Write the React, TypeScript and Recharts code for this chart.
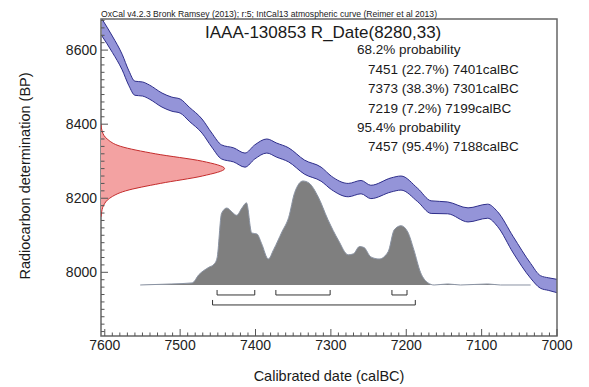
import React from "react";
import {
    ComposedChart,
    Area,
    Line,
    Scatter,
    XAxis,
    YAxis,
    ReferenceArea,
} from "recharts";

const calYears = [7604, 7590, 7577, 7568, 7560, 7550, 7541, 7524, 7511, 7500, 7488, 7471, 7458, 7445, 7429, 7414, 7401, 7385, 7372, 7356, 7335, 7313, 7299, 7277, 7260, 7247, 7220, 7207, 7185, 7167, 7145, 7118, 7092, 7079, 7058, 7035, 7022, 7011, 7000];
const calBP = [8662, 8616, 8568, 8524, 8497, 8495, 8487, 8465, 8454, 8449, 8427, 8395, 8357, 8325, 8317, 8303, 8325, 8341, 8330, 8317, 8284, 8265, 8241, 8222, 8230, 8217, 8236, 8241, 8209, 8176, 8174, 8155, 8165, 8144, 8074, 8004, 7974, 7968, 7963];
const calErr = [23, 22, 21, 20, 19, 19, 19, 19, 19, 19, 19, 19, 19, 19, 19, 19, 19, 19, 19, 19, 19, 19, 18, 18, 18, 18, 19, 19, 18, 17, 16, 19, 19, 20, 22, 20, 17, 17, 18];

// measurement R_Date(8280,33), relative height of the red curve
const dateBP = [8400, 8380, 8360, 8340, 8320, 8300, 8280, 8260, 8240, 8220, 8200, 8180, 8160, 8150];
const dateProb = [0, 0.01, 0.05, 0.16, 0.44, 0.82, 1, 0.82, 0.48, 0.2, 0.07, 0.02, 0.004, 0];

// calibrated (posterior) distribution, relative height
const postYears = [7553, 7511, 7484, 7475, 7462, 7455, 7451, 7445, 7438, 7431, 7425, 7418, 7412, 7405, 7398, 7392, 7383, 7376, 7365, 7356, 7348, 7337, 7329, 7317, 7304, 7290, 7277, 7270, 7262, 7256, 7247, 7236, 7224, 7216, 7207, 7198, 7190, 7181, 7171, 7163, 7145, 7128, 7092, 7075, 7035];
const postProb = [0, 0.01, 0.02, 0.1, 0.17, 0.2, 0.26, 0.69, 0.74, 0.7, 0.67, 0.74, 0.79, 0.5, 0.49, 0.4, 0.25, 0.34, 0.51, 0.65, 0.89, 1, 0.98, 0.85, 0.63, 0.43, 0.29, 0.3, 0.37, 0.36, 0.27, 0.25, 0.32, 0.53, 0.57, 0.51, 0.34, 0.12, 0.02, 0, 0.01, 0, 0.01, 0, 0];

const ranges68 = [[7451, 7401], [7373, 7301], [7219, 7199]];
const ranges95 = [[7457, 7188]];

const xMajor = [7600, 7500, 7400, 7300, 7200, 7100, 7000];
const yMajor = [8000, 8200, 8400, 8600];

const summary68 = ["7451 (22.7%) 7401calBC", "7373 (38.3%) 7301calBC", "7219 (7.2%) 7199calBC"];
const summary95 = ["7457 (95.4%) 7188calBC"];

const xTicks: number[] = [];
for (let v = 7600; v >= 7000; v -= 10) xTicks.push(v);
const yTicks: number[] = [];
for (let v = 7840; v <= 8680; v += 20) yTicks.push(v);

const FONT = "'Liberation Sans', Arial, sans-serif";
const TICK = "#555";

const calData = calYears.map((year, i) => ({ year, band: [calBP[i] - calErr[i], calBP[i] + calErr[i]] }));
const dateData = dateBP.map((bp, i) => ({ bp, p: dateProb[i] }));
const postData = postYears.map((year, i) => ({ year, p: postProb[i] }));

// bracket levels on the probability axis (below the baseline)
const bracket = (r: number[], top: number, low: number) => [
    { year: r[0], p: top },
    { year: r[0], p: low },
    { year: r[1], p: low },
    { year: r[1], p: top },
];

const XTick = ({ x, y, payload }: any) => {
    const major = xMajor.includes(payload.value);
    return (
        <g>
            <line x1={x} x2={x} y1={y} y2={y - (major ? 7 : 3.5)} stroke={TICK} />
            {major && (
                <text x={x} y={y + 14} textAnchor="middle" fontSize={14} fill="#222" fontFamily={FONT}>
                    {payload.value}
                </text>
            )}
        </g>
    );
};

const YTick = ({ x, y, payload }: any) => {
    const major = yMajor.includes(payload.value);
    return (
        <g>
            <line x1={x} x2={x + (major ? 7 : 3.5)} y1={y} y2={y} stroke={TICK} />
            {major && (
                <text x={x - 4} y={y + 5} textAnchor="end" fontSize={14} fill="#222" fontFamily={FONT}>
                    {payload.value}
                </text>
            )}
        </g>
    );
};

export default function App() {
    return (
        <div style={{ position: "absolute", left: 0, top: 0, width: 589, height: 387, background: "#fff" }}>
            <ComposedChart width={589} height={387} margin={{ top: 19, right: 32, bottom: 0, left: 0 }}>
                <XAxis
                    type="number"
                    dataKey="year"
                    domain={[7000, 7605]}
                    reversed
                    allowDataOverflow
                    ticks={xTicks}
                    interval={0}
                    tick={<XTick />}
                    tickLine={false}
                    axisLine={false}
                    tickSize={0}
                    tickMargin={0}
                    height={51}
                />
                <XAxis xAxisId="red" type="number" dataKey="p" domain={[0, 3.69]} allowDataOverflow hide />
                <YAxis
                    type="number"
                    dataKey="bp"
                    domain={[7828, 8684]}
                    allowDataOverflow
                    ticks={yTicks}
                    interval={0}
                    tick={<YTick />}
                    tickLine={false}
                    axisLine={false}
                    tickSize={0}
                    tickMargin={0}
                    width={101}
                />
                <YAxis yAxisId="prob" type="number" domain={[-0.4904, 2.5575]} allowDataOverflow hide />

                <Area
                    data={calData}
                    dataKey="band"
                    type="monotone"
                    fill="#9494d8"
                    fillOpacity={1}
                    stroke="#2e2e8a"
                    strokeWidth={1}
                    isAnimationActive={false}
                />
                <Scatter
                    xAxisId="red"
                    data={dateData}
                    dataKey="bp"
                    line={{ fill: "#f3a2a2", stroke: "#c42b2b", strokeWidth: 1 }}
                    lineJointType="monotoneY"
                    shape={() => <g />}
                    isAnimationActive={false}
                />
                <Area
                    yAxisId="prob"
                    data={postData}
                    dataKey="p"
                    baseValue={0}
                    type="monotone"
                    fill="#7f7f7f"
                    fillOpacity={1}
                    stroke="#8a93a3"
                    strokeWidth={1}
                    isAnimationActive={false}
                />
                {ranges68.map((r, i) => (
                    <Line
                        key={"r68" + i}
                        yAxisId="prob"
                        data={bracket(r, -0.048, -0.096)}
                        dataKey="p"
                        type="linear"
                        stroke="#333"
                        strokeWidth={1}
                        dot={false}
                        isAnimationActive={false}
                    />
                ))}
                {ranges95.map((r, i) => (
                    <Line
                        key={"r95" + i}
                        yAxisId="prob"
                        data={bracket(r, -0.144, -0.192)}
                        dataKey="p"
                        type="linear"
                        stroke="#333"
                        strokeWidth={1}
                        dot={false}
                        isAnimationActive={false}
                    />
                ))}
                <ReferenceArea
                    x1={7605}
                    x2={7000}
                    y1={7828}
                    y2={8684}
                    fill="none"
                    stroke="#666"
                    strokeWidth={1.5}
                    ifOverflow="visible"
                />
            </ComposedChart>

            <svg width={589} height={387} style={{ position: "absolute", left: 0, top: 0, pointerEvents: "none" }} fontFamily={FONT} fill="#1a1a1a">
                <text x={101} y={17} fontSize={8.8} textLength={336} lengthAdjust="spacingAndGlyphs">
                    OxCal v4.2.3 Bronk Ramsey (2013); r:5; IntCal13 atmospheric curve (Reimer et al 2013)
                </text>
                <text x={205} y={37.5} fontSize={17}>IAAA-130853 R_Date(8280,33)</text>
                <text x={357} y={54} fontSize={13.5}>68.2% probability</text>
                {summary68.map((s, i) => (
                    <text key={s} x={368} y={73.5 + i * 19.5} fontSize={13.5}>{s}</text>
                ))}
                <text x={357} y={132} fontSize={13.5}>95.4% probability</text>
                {summary95.map((s, i) => (
                    <text key={s} x={368} y={151 + i * 19.5} fontSize={13.5}>{s}</text>
                ))}
                <text transform="translate(30,176) rotate(-90)" textAnchor="middle" fontSize={14.5}>
                    Radiocarbon determination (BP)
                </text>
                <text x={329} y={381} textAnchor="middle" fontSize={14.5}>Calibrated date (calBC)</text>
            </svg>
        </div>
    );
}
